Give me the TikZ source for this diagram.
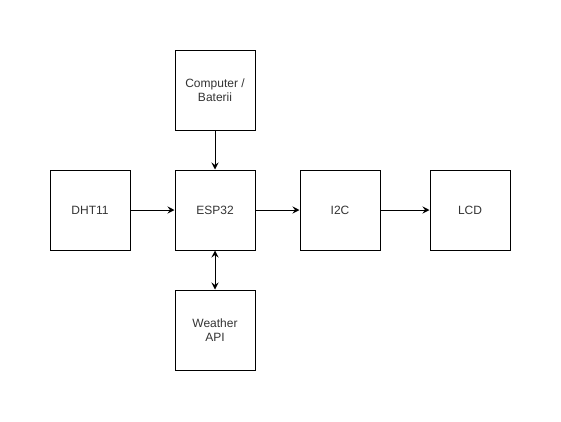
\documentclass[tikz,border=0pt]{standalone}
\usepackage{fontspec}
\setmainfont{Liberation Sans}
\usetikzlibrary{arrows.meta}
\begin{document}
\begin{tikzpicture}[x=1pt,y=-1pt,
  blk/.style={draw=black,line width=1pt,minimum width=80pt,minimum height=80pt,inner sep=0pt,align=center,font=\fontsize{12}{14.5}\selectfont,text=black!80},
  conn/.style={line width=1pt,-{Stealth[length=7pt,width=7pt,inset=2.5pt]}},
  conn2/.style={line width=1pt,{Stealth[length=7pt,width=7pt,inset=2.5pt]}-{Stealth[length=7pt,width=7pt,inset=2.5pt]}}]
\useasboundingbox (0,0) rectangle (561,421);
\node[blk] (dht) at (90,210) {DHT11};
\node[blk] (esp) at (215,210) {ESP32};
\node[blk] (i2c) at (340,210) {I2C};
\node[blk] (lcd) at (470,210) {LCD};
\node[blk] (comp) at (215,90) {Computer /\\Baterii};
\node[blk] (api) at (215,330) {Weather\\API};
\draw[conn] (dht) -- (esp);
\draw[conn] (esp) -- (i2c);
\draw[conn] (i2c) -- (lcd);
\draw[conn] (comp) -- (esp);
\draw[conn2] (esp) -- (api);
\end{tikzpicture}
\end{document}
